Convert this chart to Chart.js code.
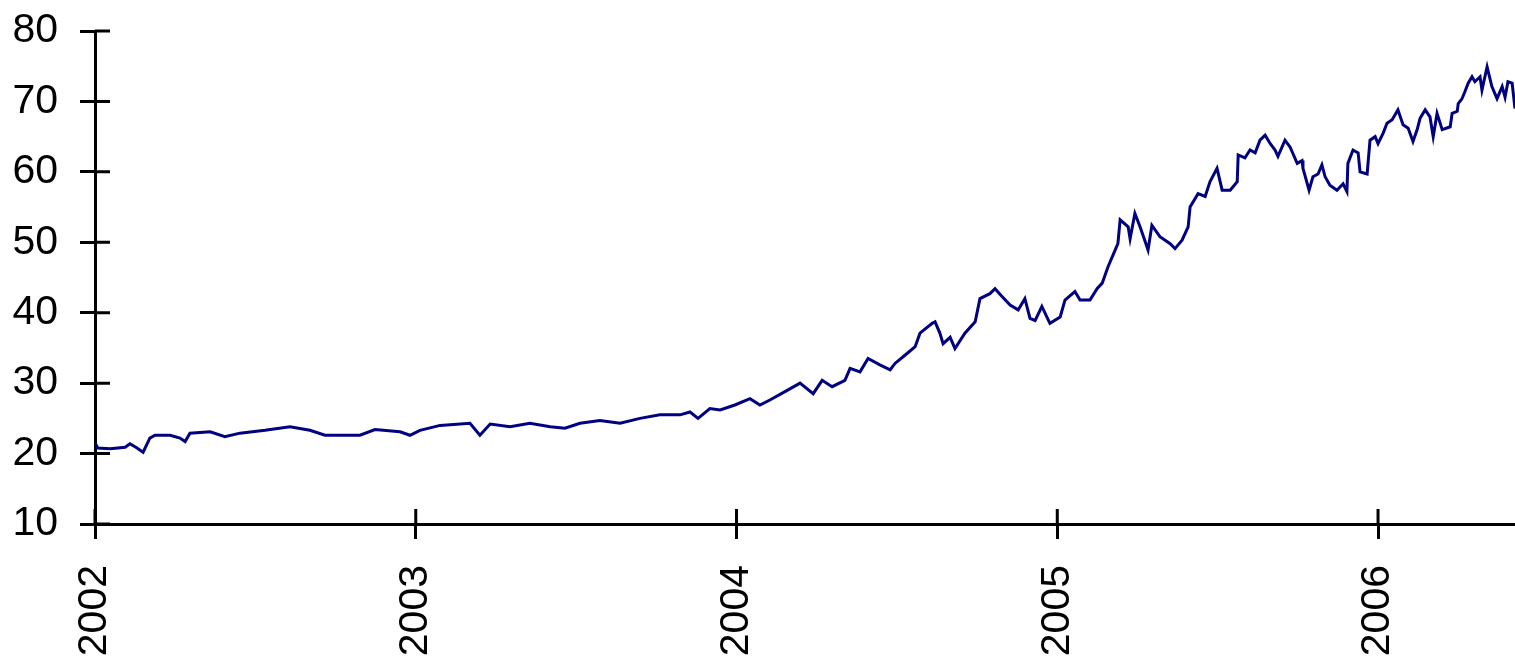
<!DOCTYPE html>
<html>
<head>
<meta charset="utf-8">
<script src="https://cdn.jsdelivr.net/npm/chart.js@4"></script>
<style>
  body { margin: 0; background: #fff; }
  #wrap { width: 1515px; height: 663px; }
</style>
</head>
<body>
<div id="wrap"><canvas id="price"></canvas></div>
<script>
// Price series (x = decimal year)

const years = [
  2002.000, 2002.009, 2002.047, 2002.094, 2002.109, 2002.131, 2002.150, 2002.171, 2002.187, 2002.234,
  2002.265, 2002.281, 2002.296, 2002.359, 2002.405, 2002.452, 2002.530, 2002.608, 2002.670, 2002.717,
  2002.826, 2002.873, 2002.951, 2002.982, 2003.013, 2003.076, 2003.169, 2003.200, 2003.232, 2003.294,
  2003.356, 2003.419, 2003.465, 2003.512, 2003.574, 2003.637, 2003.699, 2003.761, 2003.824, 2003.855,
  2003.880, 2003.917, 2003.949, 2003.995, 2004.042, 2004.073, 2004.104, 2004.151, 2004.198, 2004.239,
  2004.267, 2004.298, 2004.338, 2004.354, 2004.385, 2004.410, 2004.447, 2004.479, 2004.494, 2004.526,
  2004.557, 2004.572, 2004.610, 2004.619, 2004.634, 2004.644, 2004.666, 2004.681, 2004.712, 2004.744,
  2004.759, 2004.790, 2004.806, 2004.822, 2004.853, 2004.878, 2004.899, 2004.915, 2004.931, 2004.952,
  2004.977, 2005.009, 2005.024, 2005.055, 2005.071, 2005.102, 2005.124, 2005.140, 2005.158, 2005.174,
  2005.189, 2005.196, 2005.221, 2005.227, 2005.242, 2005.258, 2005.274, 2005.283, 2005.295, 2005.320,
  2005.352, 2005.367, 2005.389, 2005.408, 2005.414, 2005.439, 2005.461, 2005.476, 2005.498, 2005.514,
  2005.539, 2005.561, 2005.564, 2005.585, 2005.601, 2005.617, 2005.632, 2005.648, 2005.664, 2005.679,
  2005.688, 2005.710, 2005.726, 2005.748, 2005.763, 2005.766, 2005.785, 2005.797, 2005.813, 2005.825,
  2005.835, 2005.850, 2005.872, 2005.891, 2005.903, 2005.906, 2005.922, 2005.938, 2005.944, 2005.966,
  2005.975, 2005.991, 2006.000, 2006.016, 2006.028, 2006.044, 2006.062, 2006.078, 2006.094, 2006.109,
  2006.122, 2006.131, 2006.147, 2006.162, 2006.172, 2006.184, 2006.200, 2006.225, 2006.231, 2006.247,
  2006.250, 2006.262, 2006.271, 2006.281, 2006.293, 2006.302, 2006.318, 2006.324, 2006.340, 2006.355,
  2006.371, 2006.387, 2006.396, 2006.405, 2006.418, 2006.427
];

const prices = [
  21.5, 20.8, 20.7, 20.9, 21.4, 20.8, 20.2, 22.2, 22.6, 22.6,
  22.2, 21.7, 22.9, 23.1, 22.4, 22.9, 23.3, 23.8, 23.3, 22.6,
  22.6, 23.4, 23.1, 22.6, 23.3, 24.0, 24.3, 22.6, 24.2, 23.8,
  24.3, 23.8, 23.6, 24.3, 24.7, 24.3, 25.0, 25.5, 25.5, 25.9,
  25.0, 26.4, 26.2, 26.9, 27.8, 26.9, 27.6, 28.8, 30.0, 28.5,
  30.4, 29.5, 30.4, 32.1, 31.6, 33.5, 32.6, 31.9, 32.8, 34.0,
  35.2, 37.1, 38.5, 38.7, 37.1, 35.6, 36.5, 34.9, 37.1, 38.7,
  42.0, 42.7, 43.4, 42.6, 41.1, 40.4, 42.0, 39.2, 38.9, 40.9,
  38.5, 39.4, 41.8, 43.0, 41.8, 41.8, 43.4, 44.2, 46.5, 48.2,
  49.8, 53.2, 52.2, 50.5, 54.1, 52.2, 50.1, 48.9, 52.4, 50.8,
  49.8, 49.1, 50.3, 52.2, 55.0, 56.9, 56.5, 58.6, 60.5, 57.4,
  57.4, 58.6, 62.4, 62.0, 63.1, 62.7, 64.5, 65.2, 64.0, 63.1,
  62.2, 64.5, 63.5, 61.2, 61.6, 60.5, 57.4, 59.3, 59.7, 61.0,
  59.3, 58.1, 57.4, 58.3, 57.2, 61.2, 63.1, 62.7, 60.0, 59.7,
  64.5, 65.0, 64.0, 65.5, 66.9, 67.4, 68.8, 66.7, 66.2, 64.3,
  66.0, 67.6, 68.8, 67.8, 65.0, 68.3, 66.0, 66.4, 68.3, 68.6,
  69.7, 70.4, 71.4, 72.6, 73.5, 72.8, 73.5, 71.6, 74.9, 72.1,
  70.4, 72.1, 70.6, 72.8, 72.6, 69.0
];

const xTicks = [2002, 2003, 2004, 2005, 2006];
const yTicks = [10, 20, 30, 40, 50, 60, 70, 80];

Chart.defaults.font.family = "'Liberation Sans', Arial, sans-serif";
Chart.defaults.font.size = 41;
Chart.defaults.color = "#000";

// tick marks cross the axis, so draw the inner half too
const innerTicks = {
  id: "innerTicks",
  afterDraw(chart) {
    const { ctx, chartArea, scales } = chart;
    ctx.save();
    ctx.strokeStyle = "#000";
    ctx.lineWidth = 3;
    ctx.beginPath();
    scales.x.ticks.forEach((t) => {
      const px = scales.x.getPixelForValue(t.value);
      ctx.moveTo(px, chartArea.bottom);
      ctx.lineTo(px, chartArea.bottom - 15);
    });
    scales.y.ticks.forEach((t) => {
      const py = scales.y.getPixelForValue(t.value);
      ctx.moveTo(chartArea.left, py);
      ctx.lineTo(chartArea.left + 15, py);
    });
    ctx.stroke();
    ctx.restore();
  },
};

new Chart(document.getElementById("price"), {
  type: "line",
  data: {
    datasets: [
      {
        data: years.map((yr, i) => ({ x: yr, y: prices[i] })),
        borderColor: "#000080",
        borderWidth: 3,
        pointRadius: 0,
        tension: 0,
      },
    ],
  },
  options: {
    responsive: true,
    maintainAspectRatio: false,
    animation: false,
    layout: { padding: { top: 31, right: 0, left: 0, bottom: 0 } },
    plugins: {
      legend: { display: false },
      tooltip: { enabled: false },
    },
    scales: {
      x: {
        type: "linear",
        min: 2002,
        max: years[years.length - 1],
        afterBuildTicks: (scale) => {
          scale.ticks = xTicks.map((v) => ({ value: v }));
        },
        afterFit: (scale) => {
          scale.height = 139;
          scale.paddingRight = 0;
        },
        ticks: {
          autoSkip: false,
          minRotation: 90,
          maxRotation: 90,
          padding: 26,
          callback: (v) => String(v),
        },
        grid: {
          drawOnChartArea: false,
          color: "#000",
          lineWidth: 3,
          tickLength: 15,
        },
        border: { color: "#000", width: 3 },
      },
      y: {
        min: 10,
        max: 80,
        afterBuildTicks: (scale) => {
          scale.ticks = yTicks.map((v) => ({ value: v }));
        },
        afterFit: (scale) => {
          scale.width = 95;
          scale.paddingTop = 0;
          scale.paddingBottom = 0;
        },
        ticks: {
          padding: 22,
          callback: (v) => String(v),
        },
        grid: {
          drawOnChartArea: false,
          color: "#000",
          lineWidth: 3,
          tickLength: 15,
        },
        border: { color: "#000", width: 3 },
      },
    },
  },
  plugins: [innerTicks],
});
</script>
</body>
</html>
